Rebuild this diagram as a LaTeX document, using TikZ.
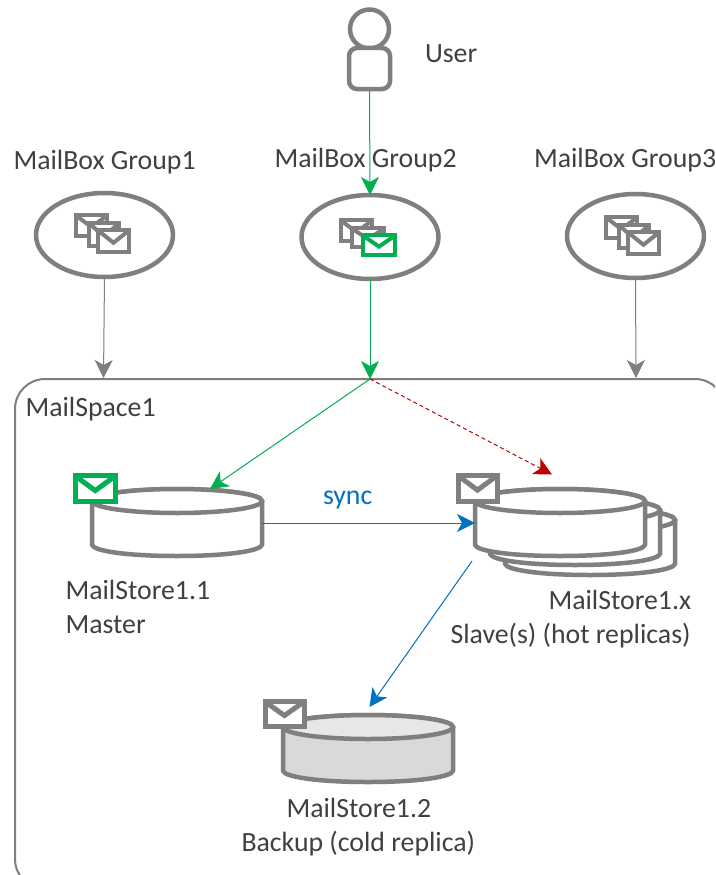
\documentclass[tikz,border=0pt]{standalone}
\usepackage{fontspec}
\setmainfont{Carlito}
\usetikzlibrary{arrows.meta,shapes.geometric}
\definecolor{mgray}{HTML}{7F7F7F}
\definecolor{mgreen}{HTML}{00B050}
\definecolor{mblue}{HTML}{0070C0}
\definecolor{mred}{HTML}{C00000}
\definecolor{mtext}{HTML}{404040}
\definecolor{sidefill}{HTML}{D9D9D9}
\definecolor{topfill}{HTML}{E7E7E7}
\tikzset{
  x=1pt,y=-1pt,
  lbl/.style={anchor=base west,inner sep=0pt,outer sep=0pt,text=mtext,font=\fontsize{27.8}{32}\selectfont},
  grp/.style={draw=mgray,line width=4.5pt,shape=ellipse,minimum width=137pt,minimum height=84pt,inner sep=0pt,outer sep=0pt},
  link/.style={line width=1pt,-{Stealth[length=18pt,width=18pt,inset=5pt]}},
  cylbox/.style={minimum width=170pt,minimum height=68pt,inner sep=0pt,outer sep=0pt},
}
% cylinder: #1 left x, #2 top-ellipse centre y, #3 body fill, #4 top fill
\newcommand{\cylshape}[4]{%
  \draw[mgray,line width=4.5pt,fill=#3,line join=round]
    (#1,#2) -- (#1,{#2+44}) .. controls ({#1+2},{#2+50}) and ({#1+35},{#2+55}) .. ({#1+85},{#2+55})
    .. controls ({#1+135},{#2+55}) and ({#1+168},{#2+50}) .. ({#1+170},{#2+44}) -- ({#1+170},#2)
    arc[start angle=0,end angle=180,x radius=85,y radius=-12] -- cycle;
  \draw[mgray,line width=4.5pt,fill=#4] ({#1+85},#2) ellipse[x radius=85,y radius=12];
}
% envelope: #1 x0, #2 y0, #3 x1, #4 y1, #5 colour, #6 line width
\newcommand{\envshape}[6]{%
  \draw[#5,line width=#6pt,fill=white,line join=miter] (#1,#2) rectangle (#3,#4);
  \draw[#5,line width=#6pt,line join=miter]
    ({#1+0.5*#6},{#2+0.5*#6}) -- ({0.5*(#1+#3)},{#2+0.58*(#4-#2)}) -- ({#3-0.5*#6},{#2+0.5*#6});
}
\begin{document}
\begin{tikzpicture}
\clip (0,0) rectangle (715,875);
\fill[white] (0,0) rectangle (715,875);

% MailSpace frame
\node[draw=mgray,line width=2pt,rounded corners=30pt,minimum width=710pt,minimum height=510pt,inner sep=0pt,outer sep=0pt,anchor=north west] (space) at (15,379) {};
\coordinate (hub) at (370,379);
\coordinate (spaceL) at (103.5,378);
\coordinate (spaceR) at (636,378);

% User
\draw[mgray,line width=4.5pt] (369.5,29) circle[radius=19.5];
\node[draw=mgray,fill=white,line width=4.5pt,rounded corners=8pt,minimum width=41pt,minimum height=41pt,inner sep=0pt,outer sep=2pt] (user) at (369.5,68.5) {};
\node[lbl] (userlbl) at (425,63) {User};

% Groups
\node[grp] (g1) at (104.5,235) {};
\node[grp] (g2) at (370,237) {};
\node[grp] (g3) at (635.5,236) {};
\node[lbl] (g1lbl) at (13.5,169) {MailBox Group1};
\node[lbl] (g2lbl) at (274.5,167) {MailBox Group2};
\node[lbl] (g3lbl) at (534,167) {MailBox Group3};

% group envelopes
\envshape{76}{215}{107}{236}{mgray}{4}
\envshape{89}{223}{119}{246}{mgray}{4}
\envshape{98}{230}{129}{252}{mgray}{4}
\envshape{341}{220}{372}{241}{mgray}{4}
\envshape{352}{228}{384}{247}{mgray}{4}
\envshape{363}{235}{395}{255}{mgreen}{4}
\envshape{606}{217}{637}{238}{mgray}{4}
\envshape{619}{225}{649}{248}{mgray}{4}
\envshape{628}{232}{659}{254}{mgray}{4}

% Cylinders
\cylshape{505}{520}{white}{white}
\cylshape{490}{510}{white}{white}
\cylshape{475}{501}{white}{white}
\cylshape{92}{501}{white}{white}
\cylshape{283}{727}{sidefill}{topfill}
\node[cylbox] (master) at (177,523) {};
\node[cylbox] (slave) at (560,523) {};
\node[cylbox] (backup) at (368,749) {};
\coordinate (masterIn) at (210,489);
\coordinate (slaveTarget) at (552,474.5);
\coordinate (slaveOut) at (472,561);
\coordinate (backupIn) at (369.5,707);

\envshape{75.5}{475.5}{115}{501.5}{mgreen}{5}
\envshape{458}{475}{497}{501}{mgray}{5}
\envshape{265}{701}{304}{726}{mgray}{5}

% Connectors
\draw[link,mgreen] (user.south) -- (g2.north);
\draw[link,mgreen] (g2.south) -- (hub);
\draw[link,mgray] (g1.south) -- (spaceL);
\draw[link,mgray] (g3.south) -- (spaceR);
\draw[link,mgreen] (hub) -- (masterIn);
\draw[link,mred,dashed,dash pattern=on 4pt off 3pt] (hub) -- (slaveTarget);
\draw[link,mblue] (master.east) -- (slave.west);
\draw[link,mblue] (slaveOut) -- (backupIn);

% Labels
\node[lbl] (spacelbl) at (25.5,416) {MailSpace1};
\node[lbl,text=mblue] (synclbl) at (323,504) {sync};
\node[lbl] (m1) at (65.5,599) {MailStore1.1};
\node[lbl] (m2) at (65.5,633) {Master};
\node[lbl] (s1) at (548.5,609) {MailStore1.x};
\node[lbl] (s2) at (450.5,643) {Slave(s) (hot replicas)};
\node[lbl] (b1) at (286.5,817) {MailStore1.2};
\node[lbl] (b2) at (241.5,851) {Backup (cold replica)};
\end{tikzpicture}
\end{document}
